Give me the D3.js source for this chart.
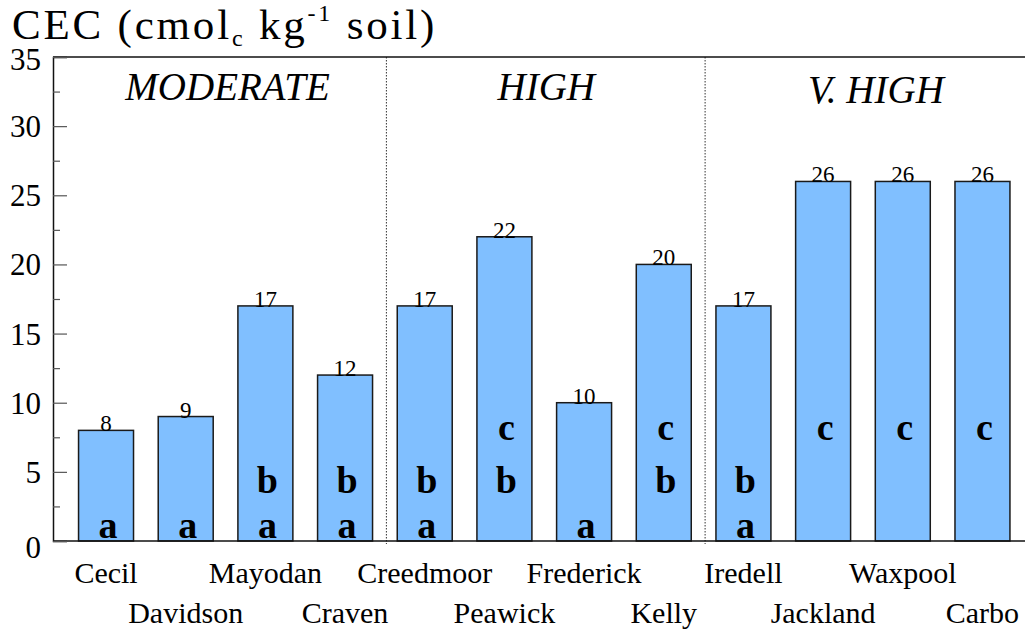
<!DOCTYPE html>
<html>
<head>
<meta charset="utf-8">
<script src="https://cdn.jsdelivr.net/npm/d3@7"></script>
<style>
  html, body { margin: 0; padding: 0; background: #fff; }
  svg { display: block; }
</style>
</head>
<body>
<svg id="chart" width="1025" height="631"></svg>
<script>
// ---- data ----
const soils = ["Cecil", "Davidson", "Mayodan", "Craven", "Creedmoor", "Peawick",
               "Frederick", "Kelly", "Iredell", "Jackland", "Waxpool", "Carbo"];
const cec = [8, 9, 17, 12, 17, 22, 10, 20, 17, 26, 26, 26];
const groupLetters = ["a", "a", "ab", "ab", "ab", "bc", "a", "bc", "ab", "c", "c", "c"];
const classNames = ["MODERATE", "HIGH", "V. HIGH"];
const classMembers = [
  ["Cecil", "Davidson", "Mayodan", "Craven"],
  ["Creedmoor", "Peawick", "Frederick", "Kelly"],
  ["Iredell", "Jackland", "Waxpool", "Carbo"]
];
const yTicks = [0, 5, 10, 15, 20, 25, 30, 35];
const yMinorTicks = [2.5, 7.5, 12.5, 17.5, 22.5, 27.5, 32.5];
const letterLevels = { a: 0.22, b: 3.45, c: 7.3 };

// ---- layout ----
const axisX = 53, plotTop = 57, plotBottom = 541, plotRight = 1025;
const FONT = "'Liberation Serif', Tinos, 'Times New Roman', Times, 'DejaVu Serif', serif";

const svg = d3.select("#chart");

const x = d3.scaleBand()
  .domain(soils)
  .range([66.2, 1022.3])
  .paddingInner(0.31)
  .paddingOuter(0.155);

const y = d3.scaleLinear().domain([0, 35]).range([plotBottom, plotTop]);

// bars
svg.append("g").selectAll("rect")
  .data(soils)
  .join("rect")
  .attr("x", d => x(d))
  .attr("y", (d, i) => y(cec[i]))
  .attr("width", x.bandwidth())
  .attr("height", (d, i) => y(0) - y(cec[i]))
  .attr("fill", "#80bfff")
  .attr("stroke", "#1a1a1a")
  .attr("stroke-width", 1.5);

// separators (dotted)
const step = x.step();
const seps = [soils.indexOf("Creedmoor"), soils.indexOf("Iredell")];
svg.append("g").selectAll("line")
  .data(seps)
  .join("line")
  .attr("x1", i => x(soils[i]) - step * x.paddingInner() / 2 + 1.5)
  .attr("x2", i => x(soils[i]) - step * x.paddingInner() / 2 + 1.5)
  .attr("y1", plotTop)
  .attr("y2", plotBottom + 3)
  .attr("stroke", "#333")
  .attr("stroke-width", 1)
  .attr("stroke-dasharray", "1.5,1.5");

// frame: top, bottom
svg.append("line").attr("x1", axisX).attr("x2", plotRight).attr("y1", plotTop).attr("y2", plotTop)
  .attr("stroke", "#111").attr("stroke-width", 1.5);
svg.append("line").attr("x1", axisX).attr("x2", plotRight).attr("y1", plotBottom).attr("y2", plotBottom)
  .attr("stroke", "#111").attr("stroke-width", 1.5);

// y axis
const yAxis = d3.axisRight(y).tickValues(yTicks).tickSize(14).tickFormat("");
const gy = svg.append("g").attr("transform", `translate(${axisX},0)`).call(yAxis);
gy.select(".domain").attr("stroke", "#111").attr("stroke-width", 1.5);
gy.selectAll(".tick line").attr("stroke", "#555").attr("stroke-width", 1.2);
const yMinor = d3.axisRight(y).tickValues(yMinorTicks).tickSize(7).tickFormat("");
const gym = svg.append("g").attr("transform", `translate(${axisX},0)`).call(yMinor);
gym.select(".domain").remove();
gym.selectAll(".tick line").attr("stroke", "#555").attr("stroke-width", 1.2);

function txt(sel) {
  return sel.attr("font-family", FONT).style("font-family", FONT).attr("fill", "#000");
}

// y tick labels
svg.append("g").selectAll("text")
  .data(yTicks)
  .join("text")
  .call(txt)
  .attr("x", 41)
  .attr("y", d => y(d) + (d === 0 ? 17 : (d === 35 ? 13 : 11)))
  .attr("text-anchor", "end")
  .style("font-size", "31px")
  .text(d => d);

// value labels
svg.append("g").selectAll("text")
  .data(soils)
  .join("text")
  .call(txt)
  .attr("x", d => x(d) + x.bandwidth() / 2)
  .attr("y", (d, i) => y(cec[i]) + 1)
  .attr("text-anchor", "middle")
  .style("font-size", "23px")
  .text((d, i) => cec[i]);

// letters
const letterData = [];
soils.forEach((s, i) => {
  groupLetters[i].split("").forEach(l => letterData.push({ soil: s, letter: l }));
});
svg.append("g").selectAll("text")
  .data(letterData)
  .join("text")
  .call(txt)
  .attr("x", d => x(d.soil) + x.bandwidth() / 2 + 2)
  .attr("y", d => y(letterLevels[d.letter]))
  .attr("text-anchor", "middle")
  .style("font-size", "38px")
  .style("font-weight", "bold")
  .text(d => d.letter);

// x labels (staggered)
svg.append("g").selectAll("text")
  .data(soils)
  .join("text")
  .call(txt)
  .attr("x", d => x(d) + x.bandwidth() / 2)
  .attr("y", (d, i) => i % 2 === 0 ? 583 : 623)
  .attr("text-anchor", "middle")
  .style("font-size", "30px")
  .text(d => d);

// class labels
svg.append("g").selectAll("text")
  .data(classNames)
  .join("text")
  .call(txt)
  .attr("x", (d, i) => {
    const m = classMembers[i];
    const c = (x(m[0]) + x(m[m.length - 1]) + x.bandwidth()) / 2;
    return c + (i === 2 ? 13 : 2);
  })
  .attr("y", (d, i) => i === 2 ? 103 : 100)
  .attr("text-anchor", "middle")
  .style("font-size", "39px")
  .style("font-style", "italic")
  .text(d => d);

// title
const t = svg.append("text")
  .call(txt)
  .attr("x", 12)
  .attr("y", 39)
  .style("font-size", "43px")
  .style("letter-spacing", "2.8px");
t.append("tspan").text("CEC (cmol");
t.append("tspan").attr("dy", 7).style("font-size", "24px").text("c");
t.append("tspan").attr("dy", -7).text(" kg");
t.append("tspan").attr("dy", -18).style("font-size", "24px").text("-1");
t.append("tspan").attr("dy", 18).text(" soil)");
</script>
</body>
</html>
